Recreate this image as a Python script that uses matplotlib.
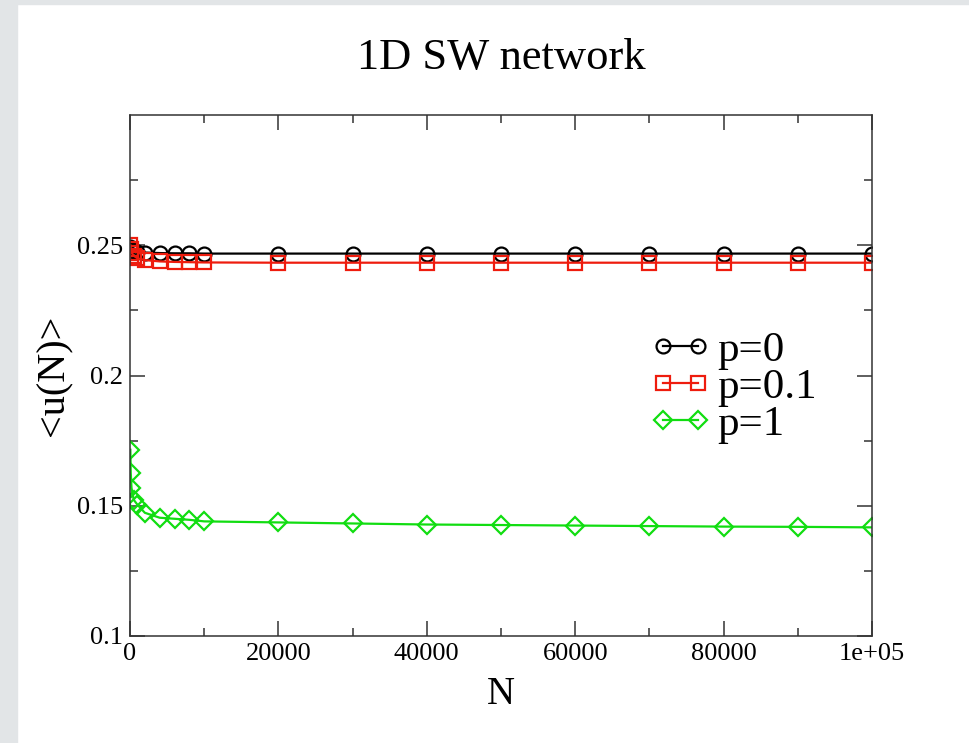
import matplotlib
matplotlib.use("Agg")
import matplotlib.pyplot as plt
from matplotlib.patches import Rectangle

# sizes N and the measured <u(N)> for each rewiring probability
n_vals = [50, 100, 200, 500, 1000, 2000, 4000, 6000, 8000, 10000,
          20000, 30000, 40000, 50000, 60000, 70000, 80000, 90000, 100000]

u_p0 = [0.2492, 0.2486, 0.2481, 0.2477, 0.2474, 0.2472, 0.2470, 0.2469, 0.2469, 0.2468,
        0.2468, 0.2468, 0.2468, 0.2468, 0.2468, 0.2468, 0.2468, 0.2468, 0.2468]

u_p01 = [0.2500, 0.2486, 0.2472, 0.2460, 0.2450, 0.2443, 0.2438, 0.2436, 0.2435, 0.2434,
         0.2433, 0.2433, 0.2433, 0.2433, 0.2433, 0.2433, 0.2433, 0.2433, 0.2433]

u_p1 = [0.1715, 0.1627, 0.1569, 0.1523, 0.1504, 0.1473, 0.1454, 0.1450, 0.1446, 0.1440,
        0.1436, 0.1432, 0.1428, 0.1426, 0.1424, 0.1422, 0.1420, 0.1419, 0.1417]

x_ticks = [0, 20000, 40000, 60000, 80000, 100000]
x_labels = ["0", "20000", "40000", "60000", "80000", "1e+05"]
y_ticks = [0.1, 0.15, 0.2, 0.25]
y_labels = ["0.1", "0.15", "0.2", "0.25"]

plt.rcParams["font.family"] = ["Liberation Serif", "DejaVu Serif"]

fig = plt.figure(figsize=(9.69, 7.43), dpi=100)

# grey page border on the left and top
fig.patches.append(Rectangle((0, 0), 17 / 969, 1, transform=fig.transFigure,
                             color="#e2e5e7", zorder=0))
fig.patches.append(Rectangle((0, 1 - 4 / 743), 1, 4 / 743, transform=fig.transFigure,
                             color="#e2e5e7", zorder=0))

ax = fig.add_axes([130 / 969, 107 / 743, 742 / 969, 521 / 743])

ax.plot(n_vals, u_p0, color="black", lw=1.6, marker="o", ms=10, mfc="none",
        mew=1.6, label="p=0")
ax.plot(n_vals, u_p01, color="#ee1c0e", lw=1.6, marker="s", ms=10, mfc="none",
        mew=1.6, label="p=0.1")
ax.plot(n_vals, u_p1, color="#11dd11", lw=1.6, marker="D", ms=9.5, mfc="none",
        mew=1.6, label="p=1")

ax.set_xlim(0, 100000)
ax.set_ylim(0.1, 0.3)
ax.set_xticks(x_ticks)
ax.set_xticklabels(x_labels)
ax.set_yticks(y_ticks)
ax.set_yticklabels(y_labels)
ax.set_xticks([10000, 30000, 50000, 70000, 90000], minor=True)
ax.set_yticks([0.125, 0.175, 0.225, 0.275], minor=True)

ax.tick_params(which="both", direction="in", top=True, right=True,
               width=1.1, color="#333333")
ax.tick_params(which="major", length=11, labelsize=19, pad=5)
ax.tick_params(which="minor", length=6)
for s in ax.spines.values():
    s.set_linewidth(1.1)
    s.set_color("#333333")

ax.set_title("1D SW network", fontsize=32, pad=33)
ax.set_xlabel("N", fontsize=28, labelpad=8)
ax.set_ylabel("<u(N)>", fontsize=29, labelpad=3)

ax.legend(loc="upper left", bbox_to_anchor=(0.701, 0.585), frameon=False,
          fontsize=31, handlelength=1.4, handletextpad=0.15,
          labelspacing=-0.05, borderpad=0, borderaxespad=0, numpoints=2)

fig.savefig("out.png", dpi=100)
